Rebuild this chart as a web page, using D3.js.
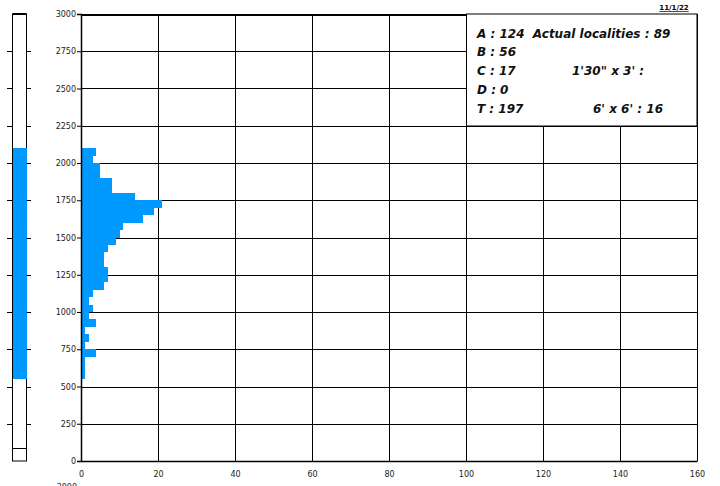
<!DOCTYPE html>
<html><head><meta charset="utf-8">
<script src="https://cdn.jsdelivr.net/npm/d3@7"></script>
<style>
html,body{margin:0;padding:0;background:#fff;}
svg{display:block;}
text{font-family:"DejaVu Sans",sans-serif;}
</style></head>
<body>
<svg id="chart" width="720" height="486"></svg>
<script>
// elevation bins (lower edge, m), 50 m wide
const binLow = [2050,2000,1950,1900,1850,1800,1750,1700,1650,1600,1550,1500,1450,1400,1350,1300,1250,1200,1150,1100,1050,1000,950,900,850,800,750,700,650,600,550];
const binCounts = [4,3,5,5,8,8,14,21,19,16,11,10,9,7,6,6,7,7,6,3,2,3,2,4,1,2,1,4,1,1,1];
const binWidth = 50;
const yTicks = [0,250,500,750,1000,1250,1500,1750,2000,2250,2500,2750,3000];
const xTicks = [0,20,40,60,80,100,120,140,160];
const rangeMin = 550, rangeMax = 2100, baseLine = 85;
const legendLeft = ["A : 124  Actual localities : 89","B : 56","C : 17","D : 0","T : 197"];
const legendRight = [{row:2,text:"1'30\" x 3' :"},{row:4,text:"6' x 6' : 16"}];
const dateLabel = "11/1/22";

const svg = d3.select("#chart");
const x = d3.scaleLinear().domain([0,160]).range([81,697]);
const y = d3.scaleLinear().domain([0,3000]).range([461,14]);
const blue = "#0099ff";
const ry = v => Math.round(y(v));
const rx = v => Math.round(x(v));

// gridlines
svg.append("g").attr("shape-rendering","crispEdges").selectAll("line").data(yTicks.filter(d=>d>0)).join("line")
  .attr("x1",x(0)).attr("x2",x(160))
  .attr("y1",d=>ry(d)+0.5).attr("y2",d=>ry(d)+0.5)
  .attr("stroke","#000").attr("stroke-width",d=>d===3000?2:1);
svg.append("g").attr("shape-rendering","crispEdges").selectAll("line").data(xTicks.filter(d=>d>0)).join("line")
  .attr("x1",d=>rx(d)+0.5).attr("x2",d=>rx(d)+0.5)
  .attr("y1",y(3000)).attr("y2",y(0))
  .attr("stroke","#000").attr("stroke-width",1);

// histogram bars (snapped to whole pixels so neighbours touch)
svg.append("g").attr("shape-rendering","crispEdges").selectAll("rect").data(binLow).join("rect")
  .attr("x",rx(0))
  .attr("y",d=>ry(d+binWidth))
  .attr("width",(d,i)=>rx(binCounts[i])-rx(0))
  .attr("height",d=>ry(d)-ry(d+binWidth))
  .attr("fill",blue);

// axes
const yAxis = d3.axisLeft(y).tickValues(yTicks).tickSize(4).tickPadding(1).tickFormat(d3.format("d"));
const gy = svg.append("g").attr("transform",`translate(${x(0)},0)`).call(yAxis);
gy.select(".domain").attr("stroke","#000").attr("stroke-width",1.5);
gy.selectAll("text").attr("font-size",8).attr("fill","#222").attr("font-family","DejaVu Sans");

const xAxis = d3.axisBottom(x).tickValues(xTicks).tickSize(0).tickPadding(10).tickFormat(d3.format("d"));
const gx = svg.append("g").attr("transform",`translate(0,${y(0)})`).call(xAxis);
gx.select(".domain").attr("stroke","#000").attr("stroke-width",1.5);
gx.selectAll("text").attr("font-size",8).attr("fill","#222").attr("font-family","DejaVu Sans");

// clipped label at bottom (cut by the page edge, as in the reference)
svg.append("text").attr("x",77).attr("y",490).attr("text-anchor","end")
  .attr("font-size",8).attr("fill","#222").text("3000");

// left range bar
const lx0 = 12.5, lx1 = 26.5;
svg.append("rect").attr("x",lx0).attr("y",y(3000)).attr("width",lx1-lx0).attr("height",y(0)-y(3000))
  .attr("fill","#fff").attr("stroke","#000").attr("stroke-width",1);
svg.append("rect").attr("x",lx0+0.5).attr("y",ry(rangeMax)).attr("width",lx1-lx0-0.5)
  .attr("height",ry(rangeMin)-ry(rangeMax)).attr("fill",blue).attr("shape-rendering","crispEdges");
svg.append("line").attr("x1",lx0).attr("x2",lx1).attr("y1",y(3000)).attr("y2",y(3000))
  .attr("stroke","#000").attr("stroke-width",2);
svg.append("line").attr("x1",lx0).attr("x2",lx1).attr("y1",ry(baseLine)+0.5).attr("y2",ry(baseLine)+0.5)
  .attr("stroke","#000").attr("stroke-width",1);
const lt = yTicks.filter(d=>d>0 && d<3000);
svg.append("g").selectAll("line").data(lt).join("line")
  .attr("x1",7).attr("x2",lx0).attr("y1",d=>ry(d)+0.5).attr("y2",d=>ry(d)+0.5)
  .attr("stroke","#000");
svg.append("g").selectAll("line").data(lt).join("line")
  .attr("x1",lx1).attr("x2",31).attr("y1",d=>ry(d)+0.5).attr("y2",d=>ry(d)+0.5)
  .attr("stroke","#000");

// legend box
svg.append("rect").attr("x",466.5).attr("y",14).attr("width",230.5).attr("height",112)
  .attr("fill","#fff").attr("stroke","#000").attr("stroke-width",1);
const lg = svg.append("g").attr("font-size",12).attr("font-weight","bold").attr("font-style","italic").attr("fill","#111");
lg.selectAll("text.l").data(legendLeft).join("text").attr("class","l")
  .attr("x",477).attr("y",(d,i)=>37.5+i*18.9).style("white-space","pre").text(d=>d);
lg.selectAll("text.r").data(legendRight).join("text").attr("class","r")
  .attr("x",(d,i)=>i===0?572:593).attr("y",d=>37.5+d.row*18.9).style("white-space","pre").text(d=>d.text);

// date
svg.append("text").attr("x",674).attr("y",10).attr("text-anchor","middle")
  .attr("font-size",7).attr("font-weight","bold").attr("text-decoration","underline").text(dateLabel);
</script>
</body></html>
